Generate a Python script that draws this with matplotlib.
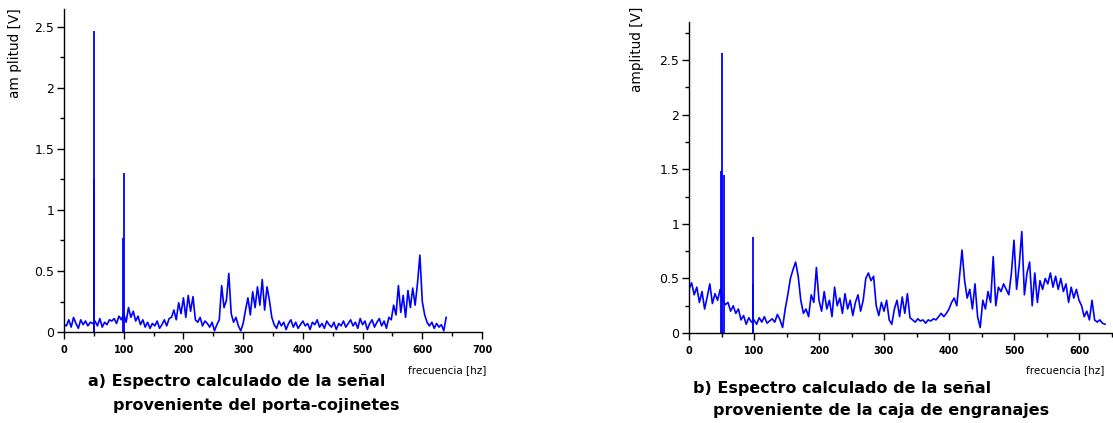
import numpy as np
import matplotlib
matplotlib.use("Agg")
import matplotlib.pyplot as plt
from matplotlib.ticker import MultipleLocator, FuncFormatter

# Frequency resolution of the tabulated spectra [Hz]
STEP_HZ = 4

# a) spectrum of the bearing-housing signal, amplitude [V] every 4 Hz from 0 Hz
amp_a = [
    0.06, 0.05, 0.10, 0.04, 0.12, 0.07, 0.03, 0.10, 0.06, 0.09, 0.05, 0.08, 0.07,
    0.09, 0.05, 0.11, 0.04, 0.08, 0.06, 0.10, 0.09, 0.11, 0.07, 0.13, 0.10,
    0.15, 0.08, 0.20, 0.12, 0.17, 0.09, 0.13, 0.06,
    0.10, 0.04, 0.08, 0.03, 0.07, 0.05, 0.09, 0.03, 0.06, 0.10, 0.05, 0.11,
    0.12, 0.18, 0.10, 0.24, 0.15, 0.28, 0.12, 0.30, 0.17, 0.29, 0.10,
    0.08, 0.12, 0.05, 0.09, 0.07, 0.04, 0.08, 0.01, 0.06,
    0.10, 0.38, 0.20, 0.26, 0.48, 0.15,
    0.08, 0.12, 0.05, 0.01, 0.07,
    0.18, 0.28, 0.14, 0.33, 0.20, 0.37, 0.22, 0.43, 0.18, 0.37, 0.26, 0.12,
    0.06, 0.03, 0.09, 0.05, 0.08, 0.02, 0.07, 0.10, 0.04, 0.08,
    0.03, 0.06, 0.09, 0.05, 0.07, 0.02, 0.08, 0.06, 0.10, 0.04,
    0.07, 0.03, 0.09, 0.06, 0.04, 0.08, 0.02, 0.07, 0.05, 0.09,
    0.04, 0.07, 0.10, 0.05, 0.08, 0.03, 0.11, 0.06, 0.09, 0.02,
    0.07, 0.10, 0.04, 0.08, 0.11, 0.05, 0.09, 0.03, 0.12,
    0.10, 0.22, 0.14, 0.38, 0.16, 0.30, 0.12, 0.34, 0.20, 0.36, 0.22, 0.40,
    0.63, 0.25, 0.14, 0.08,
    0.05, 0.08, 0.03, 0.07, 0.04, 0.06, 0.01, 0.12,
]
# narrow harmonic lines of a) (frequency [Hz], amplitude [V])
peak_a_hz = [50, 51, 99, 100]
peak_a_amp = [2.47, 1.25, 0.77, 1.30]

# b) spectrum of the gearbox signal, amplitude [V] every 4 Hz from 0 Hz
amp_b = [
    0.40, 0.46, 0.35, 0.42, 0.28, 0.38, 0.22, 0.33, 0.45, 0.27, 0.36, 0.30, 0.40,
    0.30, 0.26, 0.28, 0.20, 0.25, 0.18, 0.22, 0.12, 0.16, 0.08, 0.14, 0.10,
    0.12, 0.08, 0.14, 0.10, 0.15, 0.09, 0.11, 0.13, 0.10, 0.17, 0.12, 0.05, 0.22,
    0.35, 0.50, 0.58, 0.65, 0.52,
    0.30, 0.18, 0.22, 0.15,
    0.35, 0.28, 0.60, 0.30,
    0.20, 0.38, 0.22, 0.30, 0.15, 0.42, 0.25, 0.32, 0.18, 0.36, 0.22, 0.30,
    0.16, 0.28, 0.35, 0.20, 0.30,
    0.50, 0.55, 0.48, 0.52,
    0.25, 0.16, 0.28, 0.20, 0.30, 0.12, 0.08, 0.22,
    0.30, 0.15, 0.33, 0.18, 0.36,
    0.14, 0.12, 0.10, 0.13, 0.11, 0.12, 0.09, 0.12, 0.11, 0.13, 0.12, 0.15, 0.18,
    0.15, 0.18, 0.22, 0.28, 0.32, 0.25, 0.50, 0.76, 0.48, 0.32, 0.40, 0.22, 0.45,
    0.15, 0.05, 0.30, 0.22, 0.38, 0.28, 0.70,
    0.25, 0.42, 0.38, 0.45, 0.40,
    0.35, 0.55, 0.85, 0.40, 0.62, 0.93,
    0.35, 0.55, 0.65, 0.25, 0.55, 0.28, 0.48,
    0.40, 0.50, 0.45, 0.55, 0.42, 0.52, 0.40, 0.50, 0.38, 0.45,
    0.28, 0.42, 0.32, 0.40, 0.30,
    0.25, 0.15, 0.20, 0.12, 0.30,
    0.12, 0.10, 0.12, 0.09, 0.08,
]
# narrow harmonic lines of b) (frequency [Hz], amplitude [V])
peak_b_hz = [49, 51, 54, 98, 99]
peak_b_amp = [1.48, 2.57, 1.45, 0.45, 0.88]

freq_a = np.arange(len(amp_a)) * STEP_HZ
freq_b = np.arange(len(amp_b)) * STEP_HZ

BLUE = "#0000ff"
W, H = 1113, 423

plt.rcParams["font.family"] = ["DejaVu Sans"]
fig = plt.figure(figsize=(W / 100, H / 100), dpi=100)


def px_axes(x0, x1, y_top, y_bottom):
    return fig.add_axes([x0 / W, 1 - y_bottom / H, (x1 - x0) / W, (y_bottom - y_top) / H])


def style(ax, xmax, xmajor, ymax):
    ax.set_xlim(0, xmax)
    ax.set_ylim(0, ymax)
    for side in ("top", "right"):
        ax.spines[side].set_visible(False)
    for side in ("left", "bottom"):
        ax.spines[side].set_linewidth(1.0)
    ax.xaxis.set_major_locator(MultipleLocator(xmajor))
    ax.xaxis.set_minor_locator(MultipleLocator(50))
    ax.yaxis.set_major_locator(MultipleLocator(0.5))
    ax.yaxis.set_minor_locator(MultipleLocator(0.25))
    ax.tick_params(axis="both", which="major", direction="out", length=5, width=1.0)
    ax.tick_params(axis="both", which="minor", direction="out", length=3, width=1.0)
    ax.tick_params(axis="x", labelsize=7, pad=4)
    ax.tick_params(axis="y", labelsize=9, pad=2)
    for lab in ax.get_xticklabels():
        lab.set_fontweight("bold")
    ax.yaxis.set_major_formatter(FuncFormatter(lambda v, p: f"{v:g}"))


# ---- panel a) ----
ax_a = px_axes(64, 482, 8.7, 332)
ax_a.plot(freq_a, amp_a, color=BLUE, lw=1.2)
ax_a.vlines(peak_a_hz, 0, peak_a_amp, color=BLUE, lw=1.3)
style(ax_a, 700, 100, 2.65)

# ---- panel b) ----
ax_b = px_axes(689, 1111.5, 22, 333)
ax_b.plot(freq_b, amp_b, color=BLUE, lw=1.2)
ax_b.vlines(peak_b_hz, 0, peak_b_amp, color=BLUE, lw=1.3)
style(ax_b, 650, 100, 2.85)

# axis titles
fig.text(15 / W, 1 - 8 / H, "am plitud [V]", rotation=90, ha="center", va="top", fontsize=9.8)
fig.text(637 / W, 1 - 7 / H, "amplitud [V]", rotation=90, ha="center", va="top", fontsize=9.8)
fig.text(486 / W, 1 - 370 / H, "frecuencia [hz]", ha="right", va="center", fontsize=7.5)
fig.text(1104 / W, 1 - 370 / H, "frecuencia [hz]", ha="right", va="center", fontsize=7.5)

# captions
cap = dict(ha="left", va="center", fontweight="bold", fontsize=11.5)
fig.text(88 / W, 1 - 381 / H, "a) Espectro calculado de la señal", **cap)
fig.text(113 / W, 1 - 405 / H, "proveniente del porta-cojinetes", **cap)
fig.text(693 / W, 1 - 388 / H, "b) Espectro calculado de la señal", **cap)
fig.text(713 / W, 1 - 410 / H, "proveniente de la caja de engranajes", **cap)

fig.savefig("out.png", dpi=100)
